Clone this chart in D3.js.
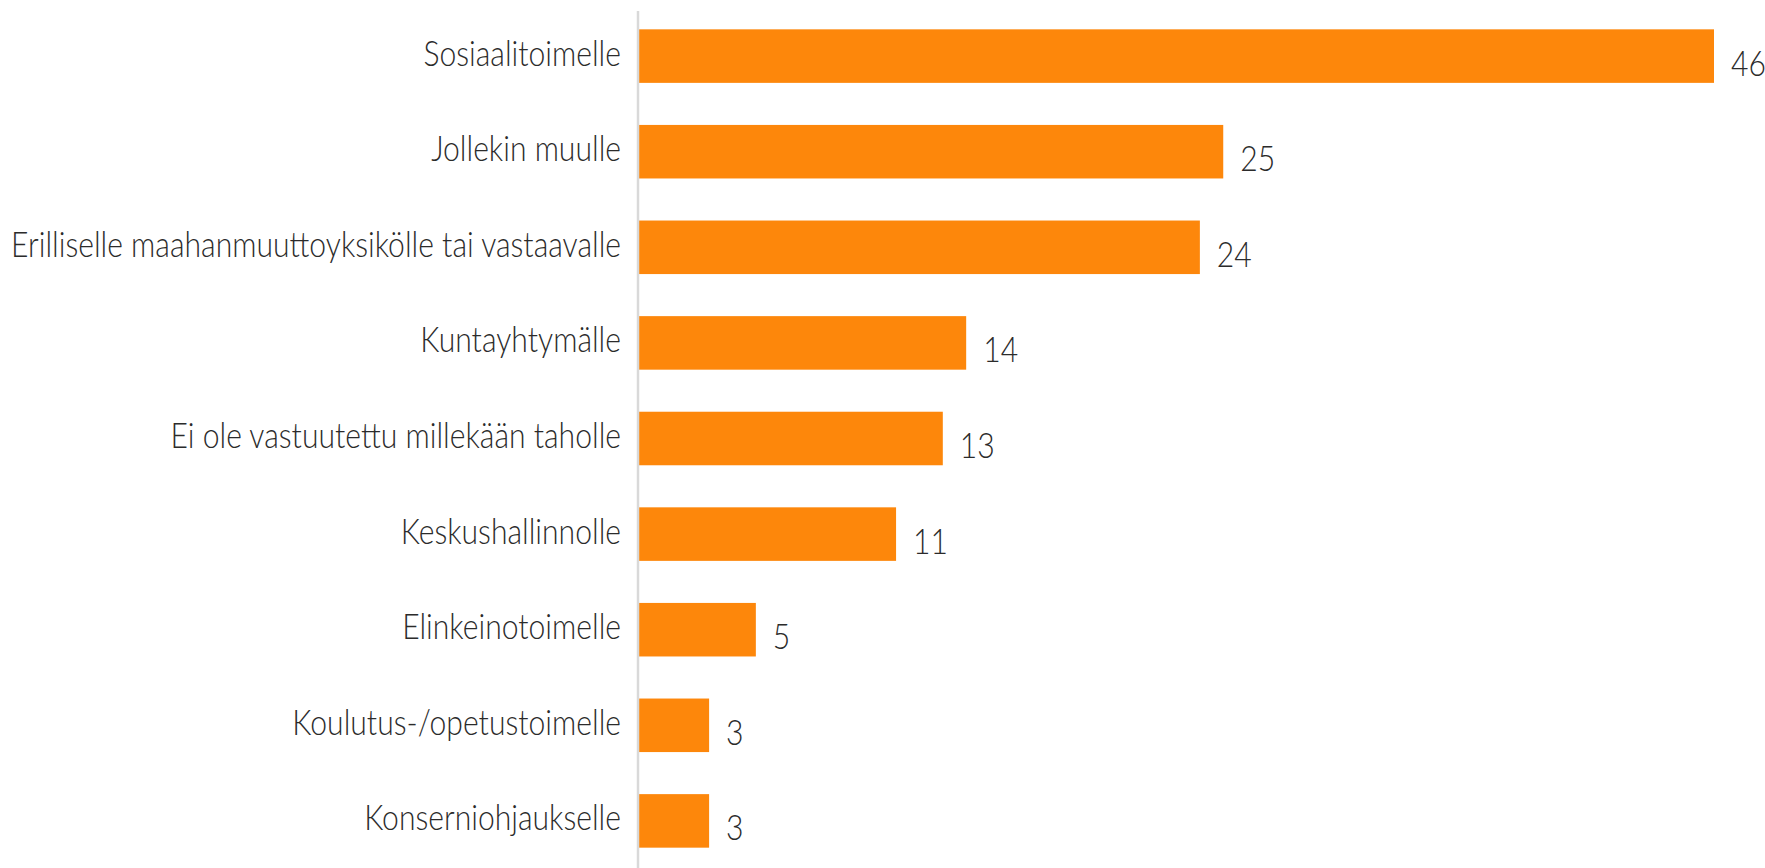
<!DOCTYPE html>
<html>
<head>
<meta charset="utf-8">
<script src="https://cdn.jsdelivr.net/npm/d3@7"></script>
<style>
  html, body { margin: 0; padding: 0; background: #fff; }
  svg { display: block; }
  .cat, .val { font-family: Lato, "Open Sans", sans-serif; font-size: 36px; font-weight: 300; fill: #2b2b2b; }
</style>
</head>
<body>
<div id="chart"></div>
<script>
// categories top to bottom
const categories = [
  "Sosiaalitoimelle",
  "Jollekin muulle",
  "Erilliselle maahanmuuttoyksikölle tai vastaavalle",
  "Kuntayhtymälle",
  "Ei ole vastuutettu millekään taholle",
  "Keskushallinnolle",
  "Elinkeinotoimelle",
  "Koulutus-/opetustoimelle",
  "Konserniohjaukselle",
];
const values = [46, 25, 24, 14, 13, 11, 5, 3, 3];

const width = 1765, height = 868;
const axisX = 638;

const svg = d3.select("#chart").append("svg")
  .attr("width", width)
  .attr("height", height);

const y = d3.scaleBand()
  .domain(categories)
  .range([8.3, 868.7])
  .paddingInner(0.44)
  .paddingOuter(0.22);

const x = d3.scaleLinear()
  .domain([0, 46])
  .range([axisX + 1, 1714]);

const rows = categories.map((c, i) => ({ cat: c, val: values[i] }));

// bars
svg.append("g")
  .selectAll("rect")
  .data(rows)
  .join("rect")
  .attr("x", x(0))
  .attr("y", d => y(d.cat))
  .attr("width", d => x(d.val) - x(0))
  .attr("height", y.bandwidth())
  .attr("fill", "#fd870b");

// vertical axis line
svg.append("line")
  .attr("x1", axisX).attr("x2", axisX)
  .attr("y1", 11).attr("y2", height)
  .attr("stroke", "#d9d9d9")
  .attr("stroke-width", 2.5);

// category labels (narrow font look -> squeeze horizontally)
const catG = svg.append("g");
const cats = catG.selectAll("text")
  .data(rows)
  .join("text")
  .attr("class", "cat")
  .attr("text-anchor", "end")
  .text(d => d.cat);

const longest = d3.max(cats.nodes(), n => n.getComputedTextLength());
const sx = 610 / longest;

cats.attr("transform", d =>
  `translate(${axisX - 17},${y(d.cat) + y.bandwidth() / 2 + 9.5}) scale(${sx},1)`);

// value labels
svg.append("g")
  .selectAll("text")
  .data(rows)
  .join("text")
  .attr("class", "val")
  .attr("transform", d =>
    `translate(${x(d.val) + 17},${y(d.cat) + y.bandwidth() / 2 + 19.5}) scale(${sx},1)`)
  .text(d => d.val);
</script>
</body>
</html>
